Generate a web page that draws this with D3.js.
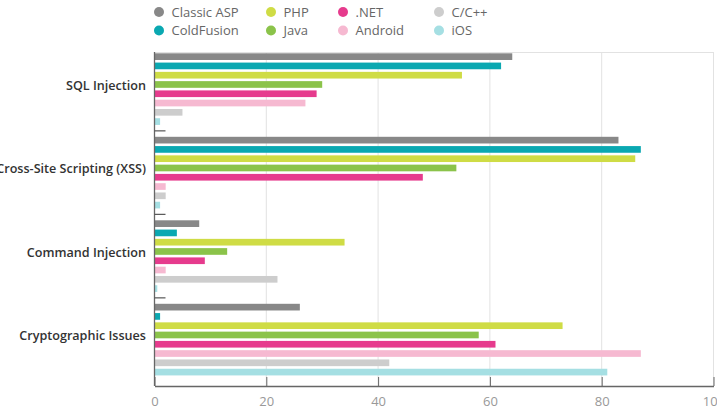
<!DOCTYPE html>
<html>
<head>
<meta charset="utf-8">
<script src="https://cdn.jsdelivr.net/npm/d3@7"></script>
<style>
  body { margin: 0; background: #fff; }
  svg { display: block; font-family: "Open Sans", sans-serif; }
</style>
</head>
<body>
<div id="chart"></div>
<script>
const categories = ['SQL Injection', 'Cross-Site Scripting (XSS)', 'Command Injection', 'Cryptographic Issues'];
const seriesNames = ['Classic ASP', 'ColdFusion', 'PHP', 'Java', '.NET', 'Android', 'C/C++', 'iOS'];
const seriesColors = ['#888888', '#0aa8b1', '#cfdc45', '#8bc34a', '#e63b8d', '#f6b9d1', '#cdcdcd', '#a5dfe3'];

// values per series, one per category (SQL, XSS, Command, Crypto)
const classicAsp = [64, 83, 8, 26];
const coldFusion = [62, 87, 4, 1];
const php = [55, 86, 34, 73];
const java = [30, 54, 13, 58];
const dotNet = [29, 48, 9, 61];
const android = [27, 2, 2, 87];
const cpp = [5, 2, 22, 42];
const ios = [1, 1, 0.5, 81];

const xTicks = [0, 20, 40, 60, 80, 100];

const seriesValues = [classicAsp, coldFusion, php, java, dotNet, android, cpp, ios];

const dimensions = {
    width: 717,
    height: 414,
    left: 154.5,
    right: 713.5,
    top: 52,
    bottom: 386
};

const svg = d3.select('#chart')
    .append('svg')
    .attr('width', dimensions.width)
    .attr('height', dimensions.height);

// Scales
const xScale = d3.scaleLinear()
    .domain([0, 100])
    .range([dimensions.left, dimensions.right]);

const yOuter = d3.scaleBand()
    .domain(categories)
    .range([dimensions.top, dimensions.bottom])
    .paddingInner(0);

// one empty slot after each group
const slots = seriesNames.concat(['_gap']);
const yInner = d3.scaleBand()
    .domain(slots)
    .range([0, yOuter.bandwidth()])
    .paddingInner(0.28)
    .paddingOuter(0.14);

// Grid
svg.append('g')
    .selectAll('line')
    .data(xTicks.slice(1))
    .join('line')
    .attr('x1', d => xScale(d))
    .attr('x2', d => xScale(d))
    .attr('y1', dimensions.top)
    .attr('y2', dimensions.bottom)
    .attr('stroke', '#e2e2e2')
    .attr('stroke-width', 1);

svg.append('line')
    .attr('x1', dimensions.left)
    .attr('x2', dimensions.right)
    .attr('y1', dimensions.top + 0.5)
    .attr('y2', dimensions.top + 0.5)
    .attr('stroke', '#e2e2e2');

// Bars
const rows = [];
categories.forEach((cat, ci) => {
    seriesNames.forEach((name, si) => {
        rows.push({ cat, name, color: seriesColors[si], value: seriesValues[si][ci] });
    });
});

svg.append('g')
    .selectAll('rect')
    .data(rows)
    .join('rect')
    .attr('x', xScale(0))
    .attr('y', d => yOuter(d.cat) + yInner(d.name))
    .attr('width', d => xScale(d.value) - xScale(0))
    .attr('height', yInner.bandwidth())
    .attr('fill', d => d.color);

// X axis
const xAxis = d3.axisBottom(xScale)
    .tickValues(xTicks)
    .tickSizeInner(-9)
    .tickSizeOuter(0)
    .tickPadding(11)
    .tickFormat(d => d);

const xAxisGroup = svg.append('g')
    .attr('transform', `translate(0, ${dimensions.bottom})`)
    .call(xAxis);

xAxisGroup.select('.domain').attr('stroke', '#666').attr('stroke-width', 1.3);
xAxisGroup.selectAll('.tick line').attr('stroke', '#666');
xAxisGroup.selectAll('.tick text')
    .attr('fill', '#999')
    .style('font-size', '13px')
    .style('font-family', '"Open Sans", sans-serif');

// Y axis line
svg.append('line')
    .attr('x1', dimensions.left)
    .attr('x2', dimensions.left)
    .attr('y1', dimensions.top)
    .attr('y2', dimensions.bottom)
    .attr('stroke', '#666')
    .attr('stroke-width', 1.3);

// inner ticks between groups
svg.append('g')
    .selectAll('line')
    .data(categories.slice(0, -1))
    .join('line')
    .attr('x1', dimensions.left)
    .attr('x2', dimensions.left + 11)
    .attr('y1', d => yOuter(d) + yInner('_gap') + yInner.bandwidth() / 2)
    .attr('y2', d => yOuter(d) + yInner('_gap') + yInner.bandwidth() / 2)
    .attr('stroke', '#555')
    .attr('stroke-width', 1.2);

// Category labels
svg.append('g')
    .selectAll('text')
    .data(categories)
    .join('text')
    .attr('x', 146)
    .attr('y', d => yOuter(d) + yOuter.bandwidth() / 2 - 8.5)
    .attr('dy', '0.35em')
    .attr('text-anchor', 'end')
    .attr('fill', '#333')
    .style('font-size', '12.6px')
    .style('font-weight', 600)
    .text(d => d);

// Legend
const legendX = [159, 271, 343, 439];
const legendY = [12, 30.5];
const legend = svg.append('g')
    .selectAll('g')
    .data(seriesNames)
    .join('g')
    .attr('transform', (d, i) => `translate(${legendX[Math.floor(i / 2)]}, ${legendY[i % 2]})`);

legend.append('circle')
    .attr('r', 5)
    .attr('fill', (d, i) => seriesColors[i]);

legend.append('text')
    .attr('x', 12.5)
    .attr('dy', '0.35em')
    .attr('fill', '#666')
    .style('font-size', '13px')
    .text(d => d);
</script>
</body>
</html>
